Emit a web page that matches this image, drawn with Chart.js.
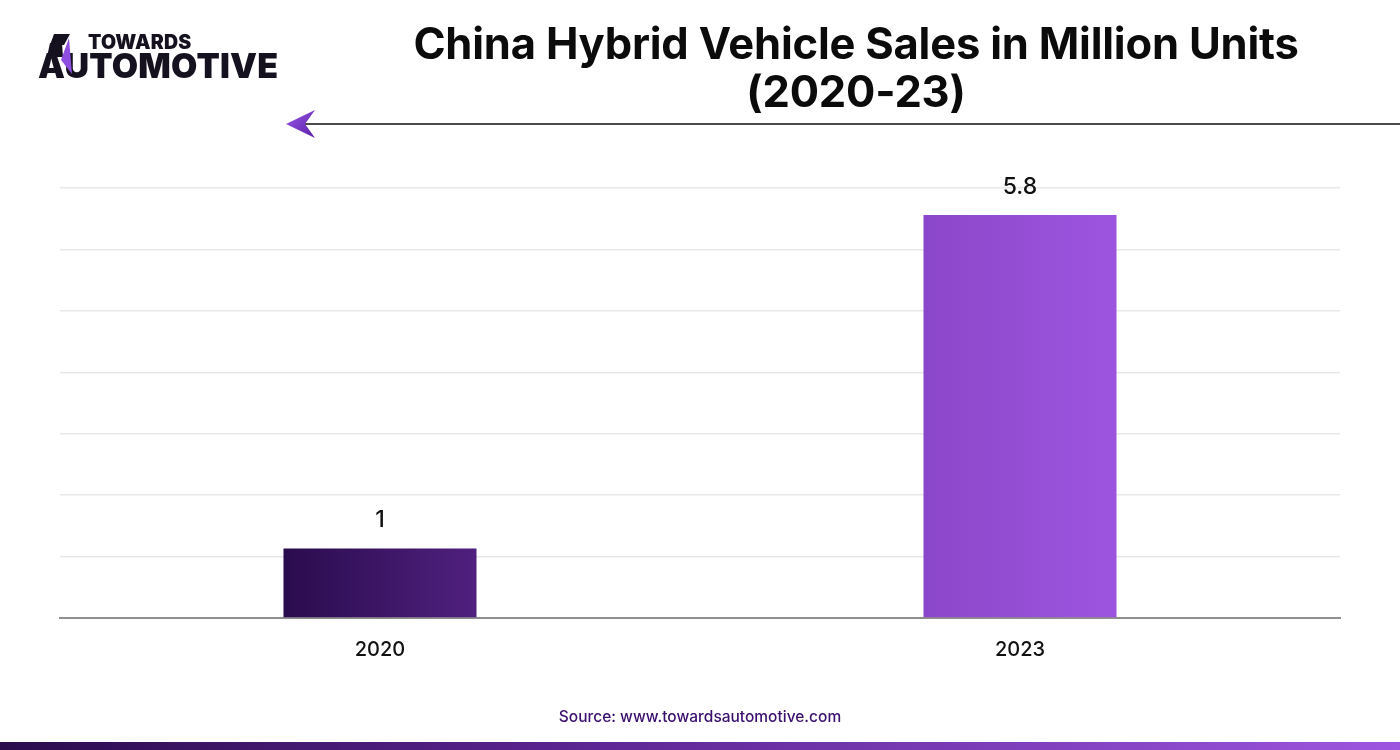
<!DOCTYPE html>
<html>
<head>
<meta charset="utf-8">
<script src="https://cdn.jsdelivr.net/npm/chart.js@4.4.1/dist/chart.umd.min.js"></script>
<style>
  html, body { margin: 0; padding: 0; background: #ffffff; }
  body { width: 1400px; height: 750px; position: relative; overflow: hidden; font-family: Inter, "Open Sans", sans-serif; }
  #wrap { position: absolute; left: 0; top: 0; width: 1400px; height: 750px; }
  #title { position: absolute; left: 256px; width: 1200px; top: 19px; text-align: center; font-family: Inter, sans-serif; font-weight: 700; font-size: 43.5px; line-height: 48px; color: #0b0b0b; letter-spacing: -0.2px; }
  #source { position: absolute; left: 0; width: 1400px; top: 707px; text-align: center; font-family: Inter, Roboto, sans-serif; font-size: 15.5px; font-weight: 500; color: #3a0f6e; }
  #strip { position: absolute; left: 0; top: 742px; width: 1400px; height: 8px; background: linear-gradient(90deg, #2a0c4c 0%, #5a2490 40%, #9d56e0 100%); }
  #logo { position: absolute; left: 36px; top: 28px; }
  #arrow { position: absolute; left: 0; top: 100px; }
</style>
</head>
<body>
<div id="wrap"><canvas id="c" width="1400" height="750"></canvas></div>
<svg id="logo" width="260" height="56" viewBox="0 0 260 56">
  <text x="52" y="21" font-family="Inter, sans-serif" font-weight="900" font-size="19.5" fill="#15111e" letter-spacing="0.2">TOWARDS</text>
  <text x="2" y="50" font-family="Inter, sans-serif" font-weight="900" font-size="34" fill="#15111e" letter-spacing="0.2">AUTOMOTIVE</text>
  <polygon points="18,6 34,6 28,17 14,17" fill="#15111e"/>
  <polygon points="14,15 26,15 27,29 11,29" fill="#15111e"/>
  <polygon points="33,10 36,46 25,32" fill="#8e4fe0"/>
</svg>
<svg id="arrow" width="1400" height="40">
  <defs>
    <linearGradient id="ag" x1="0" y1="0" x2="1" y2="1">
      <stop offset="0" stop-color="#9a5ae8"/>
      <stop offset="1" stop-color="#5a1fa8"/>
    </linearGradient>
  </defs>
  <line x1="305" y1="24" x2="1400" y2="24" stroke="#111" stroke-width="1.6"/>
  <polygon points="286,24 315,10 305,24 315,38" fill="url(#ag)"/>
</svg>
<div id="title">China Hybrid Vehicle Sales in Million Units<br>(2020-23)</div>
<div id="source">Source: www.towardsautomotive.com</div>
<div id="strip"></div>
<script>
const categories = ["2020", "2023"];
const salesMillionUnits = [1, 5.8];
const valueLabels = ["1", "5.8"];
const barGradientStops = [["#2a0c4d", "#4f207e"], ["#8b47c9", "#9d55e0"]];

const yMax = 6.19;
const gridCount = 7;
const barPct = 0.3016;

const labelPlugin = {
  id: 'valueLabels',
  afterDatasetsDraw(chart) {
    const ctx = chart.ctx;
    const meta = chart.getDatasetMeta(0);
    ctx.save();
    ctx.font = '500 23px Inter, sans-serif';
    ctx.fillStyle = '#111';
    ctx.textAlign = 'center';
    ctx.textBaseline = 'bottom';
    meta.data.forEach((bar, i) => {
      ctx.fillText(valueLabels[i], bar.x, bar.y - 17);
    });
    ctx.restore();
  }
};

function barFill(c) {
  const chart = c.chart;
  const i = c.dataIndex;
  const xs = chart.scales && chart.scales.x;
  if (!chart.chartArea || !xs || xs.getPixelForValue(i) === undefined || isNaN(xs.getPixelForValue(i))) return barGradientStops[i][0];
  const cx = xs.getPixelForValue(i);
  const half = (chart.chartArea.width / categories.length) * barPct / 2;
  const g = chart.ctx.createLinearGradient(cx - half, 0, cx + half, 0);
  g.addColorStop(0, barGradientStops[i][0]);
  g.addColorStop(1, barGradientStops[i][1]);
  return g;
}

const ctx = document.getElementById('c').getContext('2d');
const chart = new Chart(ctx, {
  type: 'bar',
  data: {
    labels: categories,
    datasets: [{
      data: salesMillionUnits,
      backgroundColor: barFill,
      borderWidth: 0,
      barPercentage: barPct,
      categoryPercentage: 1.0
    }]
  },
  options: {
    responsive: false,
    animation: false,
    events: [],
    layout: { padding: { left: 60, right: 60, top: 188, bottom: 68 } },
    plugins: { legend: { display: false }, tooltip: { enabled: false }, title: { display: false } },
    scales: {
      x: {
        grid: { display: false, drawTicks: false },
        border: { display: true, color: '#8f8f8f', width: 2 },
        ticks: { color: '#111', font: { family: 'Inter, sans-serif', size: 20, weight: 500 }, padding: 20 }
      },
      y: {
        min: 0,
        max: yMax,
        afterBuildTicks(axis) {
          axis.ticks = Array.from({ length: gridCount + 1 }, (_, i) => ({ value: yMax * i / gridCount }));
        },
        grid: { color: '#e8e8e8', lineWidth: 1.5, drawTicks: false },
        border: { display: false },
        ticks: { display: false }
      }
    }
  },
  plugins: [labelPlugin]
});
chart.update('none');
</script>
</body>
</html>
